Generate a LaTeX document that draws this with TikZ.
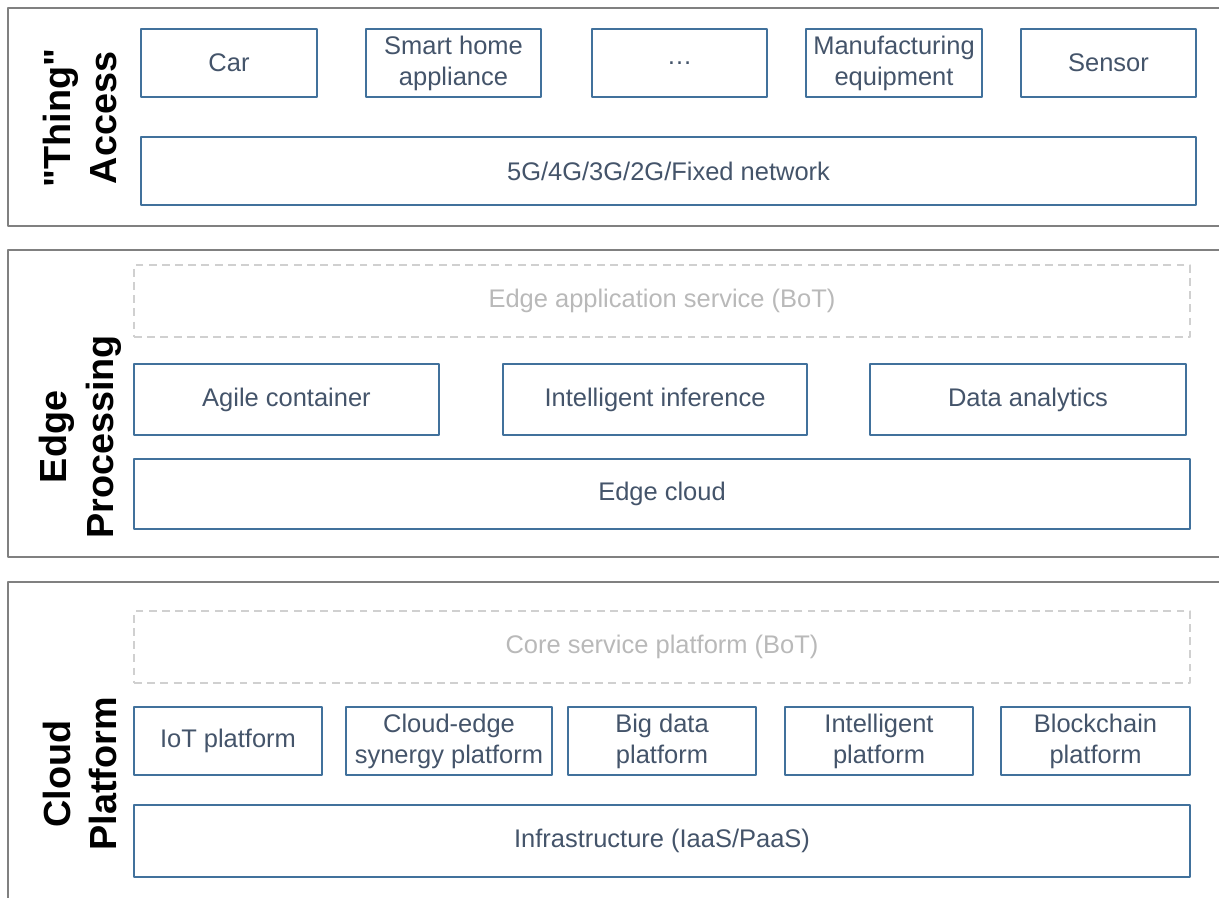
\documentclass[tikz,border=0pt]{standalone}
\usepackage{fontspec}
\setmainfont{Liberation Sans}[Ligatures=TeXOff]
\definecolor{boxblue}{RGB}{65,113,156}
\definecolor{boxtext}{RGB}{68,84,106}
\definecolor{framegray}{RGB}{128,128,128}
\definecolor{dashgray}{RGB}{208,208,208}
\definecolor{dashtext}{RGB}{185,185,185}
\tikzset{
  layerframe/.style={draw=framegray,line width=1.1pt},
  blk/.style={draw=boxblue,line width=1pt,text=boxtext,inner sep=0pt,align=center,
    font=\fontsize{14.5}{17.6}\selectfont},
  ghost/.style={draw=dashgray,line width=1pt,dash pattern=on 4.5pt off 3pt,text=dashtext,
    inner sep=0pt,align=center,font=\fontsize{14.5}{17.6}\selectfont},
  layername/.style={rotate=90,align=center,font=\fontsize{21.5}{26.6}\selectfont\bfseries}
}
\begin{document}
\begin{tikzpicture}[x=0.02cm,y=-0.02cm,line join=round]
\useasboundingbox (0,0) rectangle (1219,898);
% layer frames (open to the right)
\draw[layerframe] (1219,8)--(8,8)--(8,226)--(1219,226);
\draw[layerframe] (1219,250)--(8,250)--(8,557)--(1219,557);
\draw[layerframe] (1219,582)--(8,582)--(8,898);
\path
(80,118) node[layername] (thing) {"Thing"\\Access}
(80,437) node[layername] (edge) {Edge\\Processing}
(80,774) node[layername] (cloud) {Cloud\\Platform};
% "Thing" access
\path
(229,63) node[blk,minimum width=3.52cm,minimum height=1.36cm] (car) {Car}
(453.5,63) node[blk,minimum width=3.5cm,minimum height=1.36cm] (home) {Smart home\\appliance}
(679.5,63) node[blk,minimum width=3.5cm,minimum height=1.36cm] (dots) {\dots}
(894,63) node[blk,minimum width=3.52cm,minimum height=1.36cm] (manu) {Manufacturing\\equipment}
(1108.5,63) node[blk,minimum width=3.5cm,minimum height=1.36cm] (sensor) {Sensor}
(668.5,171) node[blk,minimum width=21.1cm,minimum height=1.36cm] (net) {5G/4G/3G/2G/Fixed network};
% edge processing
\path
(662,301) node[ghost,minimum width=21.12cm,minimum height=1.44cm] (edgeapp) {Edge application service (BoT)}
(286.5,399.5) node[blk,minimum width=6.1cm,minimum height=1.42cm] (agile) {Agile container}
(655,399.5) node[blk,minimum width=6.08cm,minimum height=1.42cm] (infer) {Intelligent inference}
(1028,399.5) node[blk,minimum width=6.32cm,minimum height=1.42cm] (analytics) {Data analytics}
(662,494) node[blk,minimum width=21.12cm,minimum height=1.4cm] (edgecloud) {Edge cloud};
% cloud platform
\path
(662,647) node[ghost,minimum width=21.12cm,minimum height=1.44cm] (core) {Core service platform (BoT)}
(228,741) node[blk,minimum width=3.76cm,minimum height=1.36cm] (iot) {IoT platform}
(449,741) node[blk,minimum width=4.12cm,minimum height=1.36cm] (synergy) {Cloud-edge\\synergy platform}
(662,741) node[blk,minimum width=3.76cm,minimum height=1.36cm] (bigdata) {Big data\\platform}
(879,741) node[blk,minimum width=3.76cm,minimum height=1.36cm] (intel) {Intelligent\\platform}
(1095.5,741) node[blk,minimum width=3.78cm,minimum height=1.36cm] (chain) {Blockchain\\platform}
(662,841) node[blk,minimum width=21.12cm,minimum height=1.44cm] (infra) {Infrastructure (IaaS/PaaS)};
\end{tikzpicture}
\end{document}
